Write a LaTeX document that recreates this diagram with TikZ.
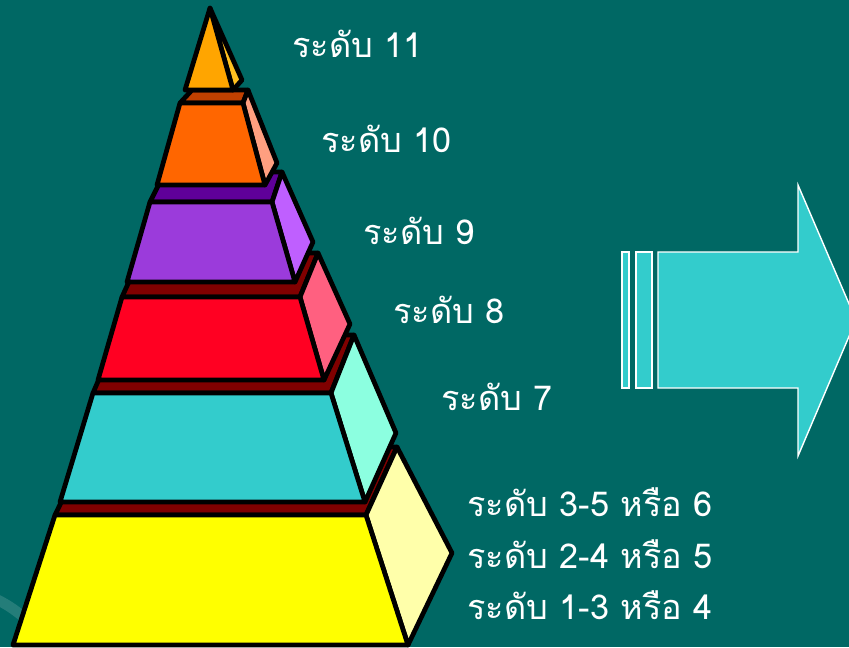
\documentclass[tikz,border=0pt]{standalone}
\usepackage{fontspec}
\newfontfamily\thaifont[Script=Thai]{Loma}
\definecolor{bgteal}{RGB}{0,104,100}
\definecolor{topred}{RGB}{128,0,0}
\definecolor{arrowcyan}{RGB}{51,204,204}

\begin{document}
\begin{tikzpicture}[x=0.02cm,y=-0.02cm,
  face/.style={draw=black,line width=2.7pt,line join=round},
  lvl/.style={text=white,font=\thaifont\fontsize{19.5}{23}\selectfont,
    anchor=base west,inner sep=0pt}]
  \useasboundingbox (0,0) rectangle (849,647);
  \clip (0,0) rectangle (849,647);
  \fill[bgteal] (0,0) rectangle (849,647);
  \draw[white,opacity=0.14,line width=6pt] (-10,596) .. controls (10,606) .. (40,630);
  \draw[face,fill=topred] (55,515)--(366,515)--(397,447)--(88,447)--cycle;
  \draw[face,fill={rgb,255:red,255;green,255;blue,170}] (366,515)--(397,447)--(452,553)--(408,645)--cycle;
  \draw[face,fill={rgb,255:red,255;green,255;blue,0}] (55,515)--(366,515)--(408,645)--(13,645)--cycle;
  \draw[face,fill=topred] (93,393)--(331,393)--(354,335)--(118,335)--cycle;
  \draw[face,fill={rgb,255:red,140;green,255;blue,224}] (331,393)--(354,335)--(396,433)--(365,502)--cycle;
  \draw[face,fill=arrowcyan] (93,393)--(331,393)--(365,502)--(60,502)--cycle;
  \draw[face,fill=topred] (122,297)--(300,297)--(318,253)--(142,253)--cycle;
  \draw[face,fill={rgb,255:red,255;green,96;blue,128}] (300,297)--(318,253)--(350,324)--(324,380)--cycle;
  \draw[face,fill={rgb,255:red,255;green,0;blue,34}] (122,297)--(300,297)--(324,380)--(98,380)--cycle;
  \draw[face,fill={rgb,255:red,95;green,0;blue,153}] (150,202)--(272,202)--(282,172)--(165,172)--cycle;
  \draw[face,fill={rgb,255:red,191;green,95;blue,255}] (272,202)--(282,172)--(313,242)--(295,282)--cycle;
  \draw[face,fill={rgb,255:red,155;green,59;blue,219}] (150,202)--(272,202)--(295,282)--(127,282)--cycle;
  \draw[face,fill={rgb,255:red,192;green,64;blue,0}] (180,103)--(243,103)--(248,90)--(192,90)--cycle;
  \draw[face,fill={rgb,255:red,255;green,159;blue,128}] (243,103)--(248,90)--(277,163)--(265,185)--cycle;
  \draw[face,fill={rgb,255:red,255;green,102;blue,0}] (180,103)--(243,103)--(265,185)--(157,185)--cycle;
  \draw[face,fill={rgb,255:red,255;green,192;blue,32}] (210,8)--(242,80)--(233,90)--cycle;
  \draw[face,fill={rgb,255:red,255;green,165;blue,0}] (210,8)--(233,90)--(185,90)--cycle;
  \begin{scope}[draw=white,line width=0.8pt,fill=arrowcyan]
    \filldraw (622,252) rectangle (629,388);
    \filldraw (636,252) rectangle (652,388);
    \filldraw (658,252)--(798,252)--(798,185)--(856,320)--(798,456)--(798,388)--(658,388)--cycle;
  \end{scope}
  \foreach \x/\y/\txt/\i in {292/57/ระดับ 11/a,321/152/ระดับ 10/b,363/244/ระดับ 9/c,
    393/323/ระดับ 8/d,441/410/ระดับ 7/e,467/516/ระดับ 3-5 หรือ 6/f,
    467/568/ระดับ 2-4 หรือ 5/g,467/619/ระดับ 1-3 หรือ 4/h}
    \node[lvl] (lbl\i) at (\x,\y) {\txt};
\end{tikzpicture}
\end{document}
